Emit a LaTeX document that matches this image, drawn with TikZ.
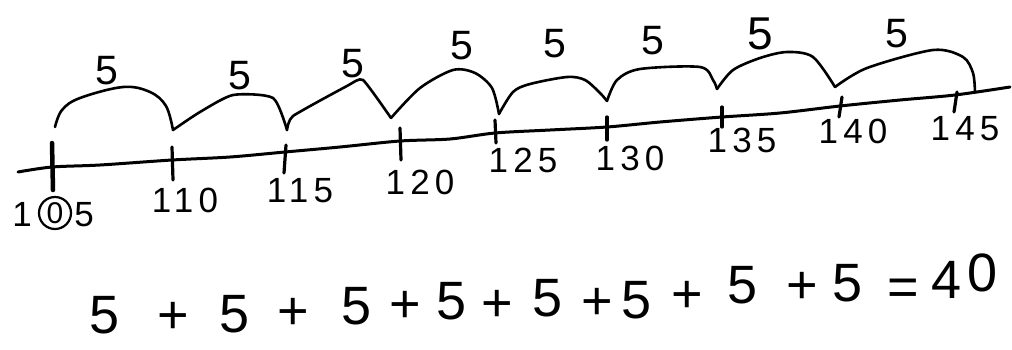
\documentclass[tikz,border=0pt]{standalone}
\usepackage{fontspec}
\setmainfont{Liberation Sans}
\newfontfamily\hand[LetterSpace=15]{Liberation Sans}
\begin{document}
\begin{tikzpicture}[x=1pt,y=-1pt,
  ink/.style={line width=2.6pt,line cap=round,line join=round,black},
  tickmark/.style={line width=3.2pt,line cap=round,black},
  ticklabel/.style={inner sep=0pt,text height=25pt,text depth=0pt,font=\hand\fontsize{35}{40}\selectfont},
  jumplabel/.style={inner sep=0pt,text height=29.5pt,text depth=0pt,font=\fontsize{41}{46}\selectfont},
  eqchar/.style={inner sep=0pt,text height=38pt,text depth=0pt,font=\fontsize{54}{58}\selectfont}]
\useasboundingbox (0,0) rectangle (1012,349);
\fill[white] (0,0) rectangle (1012,349);

% number line
\coordinate (L0) at (18,172);
\coordinate (L1) at (1010,87);
\draw[ink,line width=3pt] plot[smooth,tension=0.5] coordinates {(L0) (52,167) (100,165) (172,160) (230,157) (285,152) (340,147) (400,141) (450,139) (495,133) (550,130) (607,127) (660,122) (722,117) (780,113) (840,106) (900,100) (955,95) (L1)};

% ticks
\draw[tickmark,line width=4.5pt] (52,143) -- (53,190);
\draw[tickmark] (172,147) -- (173,180);
\draw[tickmark] (286,145) -- (284,173);
\draw[tickmark] (400,128) -- (401,160);
\draw[tickmark] (495,120) -- (496,143);
\draw[tickmark] (607,117) -- (607,140);
\draw[tickmark] (722,107) -- (722,127);
\draw[tickmark] (842,97) -- (839,117);
\draw[tickmark] (957,92) -- (954,112);

% tick labels
\node[ticklabel] (n105a) at (22,214) {1};
\node[circle,draw,line width=2.2pt,minimum size=32pt,inner sep=0pt,text height=21pt,text depth=0pt,font=\fontsize{30}{32}\selectfont] (n105b) at (55,213) {0};
\node[ticklabel] (n105c) at (84,214) {5};
\node[ticklabel] (n110) at (185,200) {110};
\node[ticklabel] (n115) at (300,190) {115};
\node[ticklabel] (n120) at (420,182) {120};
\node[ticklabel] (n125) at (523,160) {125};
\node[ticklabel] (n130) at (630,158) {130};
\node[ticklabel] (n135) at (742,140) {135};
\node[ticklabel] (n140) at (853,131) {140};
\node[ticklabel] (n145) at (965,128) {145};

% jump ends
\coordinate (v0) at (55,127);
\coordinate (v1) at (173,130);
\coordinate (v2) at (287,130);
\coordinate (v3) at (391,118);
\coordinate (v4) at (499,114);
\coordinate (v5) at (607,101);
\coordinate (v6) at (717,89);
\coordinate (v7) at (835,87);
\coordinate (v8) at (975,92);

% jumps
\draw[ink] plot[smooth,tension=0.6] coordinates {(v0) (62,110) (80,98) (123,87) (150,92) (166,106) (v1)};
\draw[ink] plot[smooth,tension=0.4] coordinates {(v1) (200,112) (233,95) (273,98) (v2)};
\draw[ink] plot[smooth,tension=0.3] coordinates {(v2) (293,116) (347,86) (363,80) (v3)};
\draw[ink] plot[smooth,tension=0.5] coordinates {(v3) (420,88) (453,70) (475,73) (492,88) (v4)};
\draw[ink] plot[smooth,tension=0.5] coordinates {(v4) (513,92) (530,84) (567,77) (585,80) (600,93) (v5)};
\draw[ink] plot[smooth,tension=0.5] coordinates {(v5) (617,80) (640,69) (700,67) (713,80) (v6)};
\draw[ink] plot[smooth,tension=0.5] coordinates {(v6) (733,70) (760,58) (787,52) (813,57) (v7)};
\draw[ink] plot[smooth,tension=0.5] coordinates {(v7) (867,68) (933,50) (963,57) (973,73) (v8)};

% jump labels
\node[jumplabel] (j1) at (107,70) {5};
\node[jumplabel] (j2) at (240,75) {5};
\node[jumplabel] (j3) at (353,63) {5};
\node[jumplabel] (j4) at (462,45) {5};
\node[jumplabel] (j5) at (555,43) {5};
\node[jumplabel] (j6) at (653,40) {5};
\node[jumplabel,text height=33pt,font=\fontsize{46}{50}\selectfont] (j7) at (760,33) {5};
\node[jumplabel] (j8) at (897,33) {5};

% equation
\foreach \x/\y/\c [count=\i] in {105/314/5, 173/314/+, 235/313/5, 293/310/+, 357/305/5, 405/303/+, 452/300/5, 497/302/+, 548/297/5, 597/300/+, 637/299/5, 687/293/+, 743/284/5, 802/284/+, 848/282/5, 903/286/=, 947/279/4, 983/272/0}
  \node[eqchar] (e\i) at (\x,\y) {\c};
\end{tikzpicture}
\end{document}
